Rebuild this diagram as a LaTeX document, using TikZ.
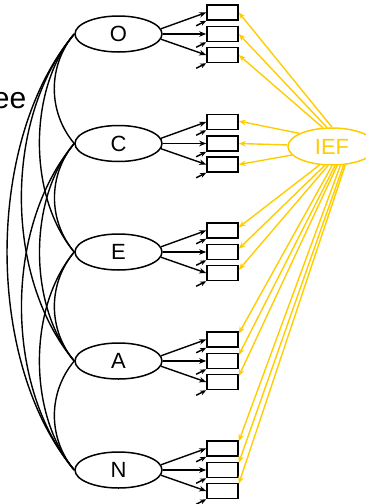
\documentclass[tikz,border=0pt]{standalone}
\usepackage{fontspec}
\setmainfont{Liberation Sans}
\usetikzlibrary{shapes.geometric,arrows.meta,calc}
\definecolor{gold}{RGB}{255,204,0}
\tikzset{
  lat/.style={ellipse, draw, line width=1.5pt, minimum width=87pt, minimum height=36pt, inner sep=0pt, font=\fontsize{22}{22}\selectfont},
  ind/.style={rectangle, draw, line width=1.6pt, minimum width=31pt, minimum height=15pt, inner sep=0pt, fill=white},
  load/.style={-{Stealth[length=7pt,width=5.5pt]}, line width=1.4pt},
  res/.style={-{Stealth[length=6pt,width=5pt]}, line width=1.4pt},
  cor/.style={line width=1.4pt},
  iefarr/.style={-{Stealth[length=7pt,width=5.5pt]}, line width=1.4pt, draw=gold},
  ieflat/.style={ellipse, draw=gold, text=gold, line width=1.5pt, minimum width=88pt, minimum height=37pt, inner sep=0pt, font=\fontsize{22}{22}\selectfont}
}
\begin{document}
\begin{tikzpicture}[x=1pt,y=-1pt]
\useasboundingbox (0,0) rectangle (365,504);
\node[font=\fontsize{30}{30}\selectfont, anchor=base east, inner sep=0pt] (ee) at (26.5,108.5) {ee};
\foreach \n/\y in {O/34, C/143.5, E/252, A/361, N/470} {
  \node[lat] (\n) at (118.5,\y) {\n};
  \node[ind] (\n1) at (222.5,\y-21.5) {};
  \node[ind] (\n2) at (222.5,\y) {};
  \node[ind] (\n3) at (222.5,\y+21) {};
  \draw[load] (\n.7) -- (\n1.west);
  \draw[load] (\n.east) -- (\n2.west);
  \draw[load] (\n.-7) -- (\n3.west);
  \foreach \k in {1,2,3} {
    \coordinate (\n\k r) at ($(\n\k.south west)+(-10,5)$);
    \draw[res] (\n\k r) -- (\n\k.south west);
  }
}
\foreach \a/\b/\l in {O/C/0.97, C/E/0.97, E/A/0.97, A/N/0.97, O/E/0.85, C/A/0.85, E/N/0.85, O/A/0.86, C/N/0.86, O/N/0.82}
  \draw[cor] (\a.west) to[bend right=40, looseness=\l] (\b.west);
\node[ieflat] (IEF) at (332,146.5) {IEF};
\draw[iefarr] (IEF.90) -- (O1.east);
\draw[iefarr] (IEF.105) -- (O2.east);
\draw[iefarr] (IEF.116) -- (O3.east);
\draw[iefarr] (IEF.158) -- (C1.3);
\draw[iefarr] (IEF.178) -- (C2.east);
\draw[iefarr] (IEF.192) -- (C3.east);
\draw[iefarr] (IEF.-124) -- (E1.11);
\draw[iefarr] (IEF.-111) -- (E2.11);
\draw[iefarr] (IEF.-102) -- (E3.11);
\draw[iefarr] (IEF.-90) -- (A1.20);
\draw[iefarr] (IEF.-81) -- (A2.20);
\draw[iefarr] (IEF.-75) -- (A3.20);
\draw[iefarr] (IEF.-66) -- (N1.24);
\draw[iefarr] (IEF.-58) -- (N2.24);
\draw[iefarr] (IEF.-54) -- (N3.24);
\end{tikzpicture}
\end{document}
